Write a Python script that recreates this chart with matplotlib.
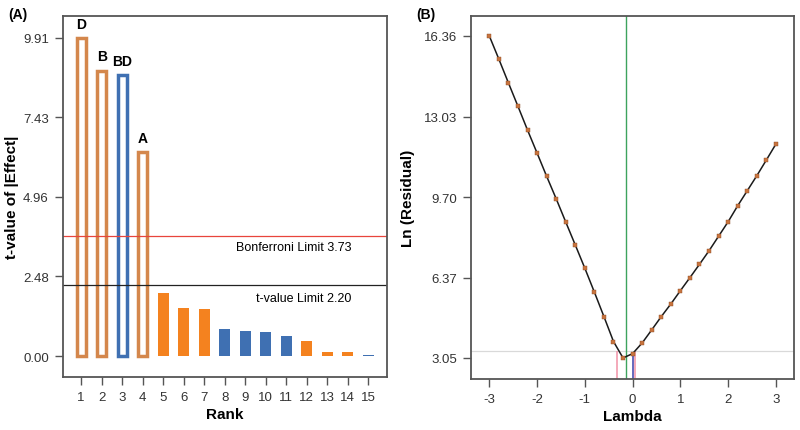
import matplotlib
matplotlib.use('Agg')
import matplotlib.pyplot as plt

plt.rcParams['font.family'] = ['Liberation Sans', 'DejaVu Sans']
plt.rcParams['axes.unicode_minus'] = False

# (A) Half-normal / Pareto chart of effects
ranks = list(range(1, 16))
t_values = [9.91, 8.89, 8.76, 6.36, 1.96, 1.50, 1.47, 0.83, 0.77, 0.75, 0.64, 0.46, 0.14, 0.14, 0.04]
positive = [True, True, False, True, True, True, True, False, False, False, False, True, True, True, False]
hollow = [True, True, True, True] + [False] * 11
labels = ['D', 'B', 'BD', 'A']
bonferroni = 3.73
t_limit = 2.20
a_yticks = [0.00, 2.48, 4.96, 7.43, 9.91]

# (B) Box-Cox plot
lam = [-3.0, -2.8, -2.6, -2.4, -2.2, -2.0, -1.8, -1.6, -1.4, -1.2, -1.0, -0.8, -0.6, -0.4, -0.2,
       0.0, 0.2, 0.4, 0.6, 0.8, 1.0, 1.2, 1.4, 1.6, 1.8, 2.0, 2.2, 2.4, 2.6, 2.8, 3.0]
ln_resid = [16.36, 15.40, 14.42, 13.45, 12.47, 11.52, 10.56, 9.63, 8.67, 7.72, 6.76, 5.77, 4.76, 3.73, 3.05,
            3.23, 3.67, 4.21, 4.76, 5.28, 5.83, 6.37, 6.92, 7.48, 8.08, 8.68, 9.34, 9.96, 10.58, 11.23, 11.89]
best_lambda = -0.13
ci_low, ci_high = -0.32, 0.06
current_lambda = 0.0
ci_level = 3.33
b_yticks = [3.05, 6.37, 9.70, 13.03, 16.36]

orange = '#F4821F'
orange_edge = '#D4874C'
blue = '#3F70B2'
frame = '#555555'

fig = plt.figure(figsize=(8, 4.31), dpi=100)

def style(ax):
    for s in ax.spines.values():
        s.set_color(frame)
        s.set_linewidth(1.3)
    ax.tick_params(length=6, width=1, color=frame, labelsize=9.5, labelcolor='#333333', pad=4)

# ---- panel A ----
ax = fig.add_axes([0.0784, 0.1223, 0.405, 0.8376])
style(ax)
for r, t, pos, h in zip(ranks, t_values, positive, hollow):
    if h:
        ec = orange_edge if pos else blue
        ax.bar(r, t, width=0.44, facecolor='white', edgecolor=ec, linewidth=2.5)
    else:
        ax.bar(r, t, width=0.54, color=orange if pos else blue, linewidth=0)
for r, t, lab in zip(ranks, t_values, labels):
    ax.text(r, t + 0.22, lab, ha='center', va='bottom', fontsize=10, fontweight='bold')
ax.axhline(bonferroni, color='#E8453C', lw=0.9)
ax.axhline(t_limit, color='#222222', lw=0.9)
ax.text(14.16, 3.40, 'Bonferroni Limit %.2f' % bonferroni, ha='right', va='center', fontsize=9)
ax.text(14.16, 1.81, 't-value Limit %.2f' % t_limit, ha='right', va='center', fontsize=9)
ax.set_xlim(0.1, 15.9)
ax.set_ylim(-0.66, 10.58)
ax.set_xticks(ranks)
ax.set_yticks(a_yticks)
ax.set_yticklabels(['%.2f' % v for v in a_yticks])
ax.set_xlabel('Rank', fontsize=11, fontweight='bold', labelpad=3)
ax.set_ylabel('t-value of |Effect|', fontsize=11, fontweight='bold', labelpad=3)
fig.text(0.01, 0.965, '(A)', fontsize=10, fontweight='bold', va='center')

# ---- panel B ----
bx = fig.add_axes([0.5884, 0.1183, 0.4041, 0.843])
style(bx)
bx.axhline(ci_level, color='#D9D9D9', lw=0.9, zorder=1)
bx.axvline(best_lambda, color='#3DA35D', lw=1.0, zorder=2)
bx.vlines([ci_low, ci_high], 2.18, ci_level, color='#F29BAE', lw=1.2, zorder=2)
bx.vlines([current_lambda], 2.18, 3.23, color='#4A4FB0', lw=1.2, zorder=2)
bx.plot(lam, ln_resid, color='#1a1a1a', lw=1.1, zorder=3)
bx.plot(lam, ln_resid, 's', ms=2.2, color='#C8743E', mec='#8a4a26', mew=0.3, zorder=4)
bx.set_xlim(-3.39, 3.38)
bx.set_ylim(2.18, 17.2)
bx.set_xticks([-3, -2, -1, 0, 1, 2, 3])
bx.set_yticks(b_yticks)
bx.set_yticklabels(['%.2f' % v for v in b_yticks])
bx.set_xlabel('Lambda', fontsize=11, fontweight='bold', labelpad=3)
bx.set_ylabel('Ln (Residual)', fontsize=11, fontweight='bold', labelpad=6)
fig.text(0.52, 0.965, '(B)', fontsize=10, fontweight='bold', va='center')

fig.savefig('out.png', dpi=100)
